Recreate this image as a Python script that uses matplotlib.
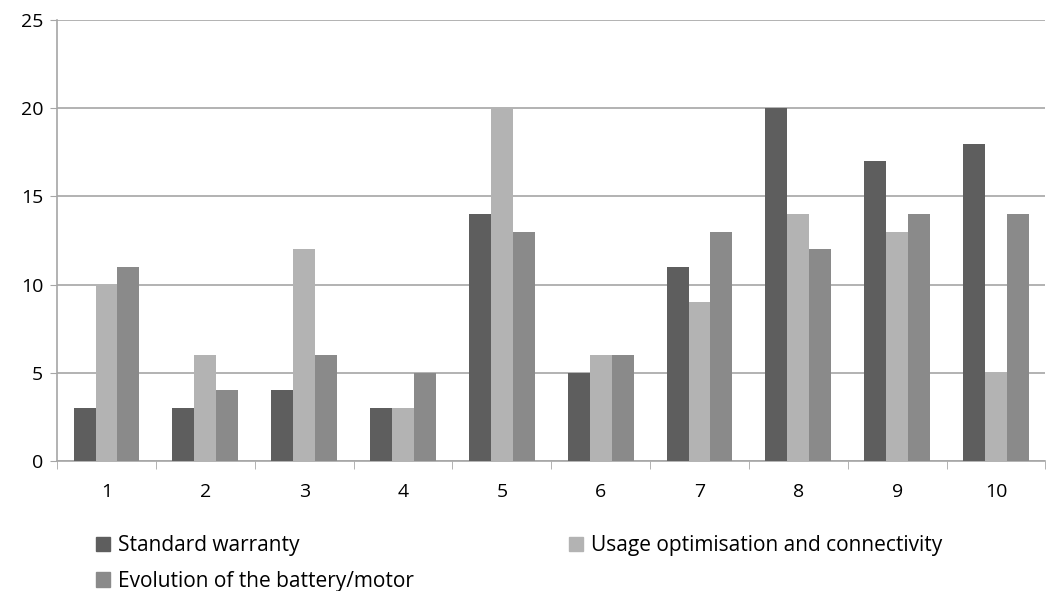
import numpy as np
import matplotlib
matplotlib.use('Agg')
import matplotlib.pyplot as plt
from matplotlib.patches import Patch

categories = ['1', '2', '3', '4', '5', '6', '7', '8', '9', '10']
standard_warranty = [3, 3, 4, 3, 14, 5, 11, 20, 17, 18]
usage_optimisation = [10, 6, 12, 3, 20, 6, 9, 14, 13, 5]
battery_motor = [11, 4, 6, 5, 13, 6, 13, 12, 14, 14]
series_names = ['Standard warranty', 'Usage optimisation and connectivity',
                'Evolution of the battery/motor']
colors = ['#5e5e5e', '#b3b3b3', '#8a8a8a']

plt.rcParams['font.family'] = ['Open Sans', 'DejaVu Sans']

fig = plt.figure(figsize=(10.47, 5.91), dpi=100)
ax = fig.add_axes([0.0545, 0.22, 0.944, 0.746])

x = np.arange(len(categories))
w = 0.222
for i, vals in enumerate([standard_warranty, usage_optimisation, battery_motor]):
    ax.bar(x + (i - 1) * w, vals, w, color=colors[i], zorder=3)

ax.set_xlim(-0.5, len(categories) - 0.5)
ax.set_ylim(0, 25)
ax.set_yticks(range(0, 26, 5))
ax.yaxis.grid(True, color='#a6a6a6', linewidth=1.2, zorder=0)
ax.tick_params(axis='y', length=5, color='#a6a6a6', labelsize=14, pad=5)

# category labels centered, tick marks at boundaries
ax.set_xticks(x)
ax.set_xticklabels(categories)
ax.set_xticks(np.arange(-0.5, len(categories), 1), minor=True)
ax.tick_params(axis='x', which='major', length=0, labelsize=14, pad=16)
ax.tick_params(axis='x', which='minor', length=6, color='#a6a6a6')

for s in ['top', 'right']:
    ax.spines[s].set_visible(False)
for s in ['left', 'bottom']:
    ax.spines[s].set_color('#a6a6a6')
    ax.spines[s].set_linewidth(1.2)

handles = [Patch(color=colors[0], label=series_names[0]),
           Patch(color=colors[2], label=series_names[2]),
           Patch(color=colors[1], label=series_names[1])]
fig.legend(handles=handles, ncol=2, loc='upper left', bbox_to_anchor=(0.082, 0.112),
           frameon=False, fontsize=15, handlelength=0.65, handleheight=0.7,
           handletextpad=0.4, columnspacing=7.45, labelspacing=0.7, borderpad=0)

fig.savefig('out.png', dpi=100)
